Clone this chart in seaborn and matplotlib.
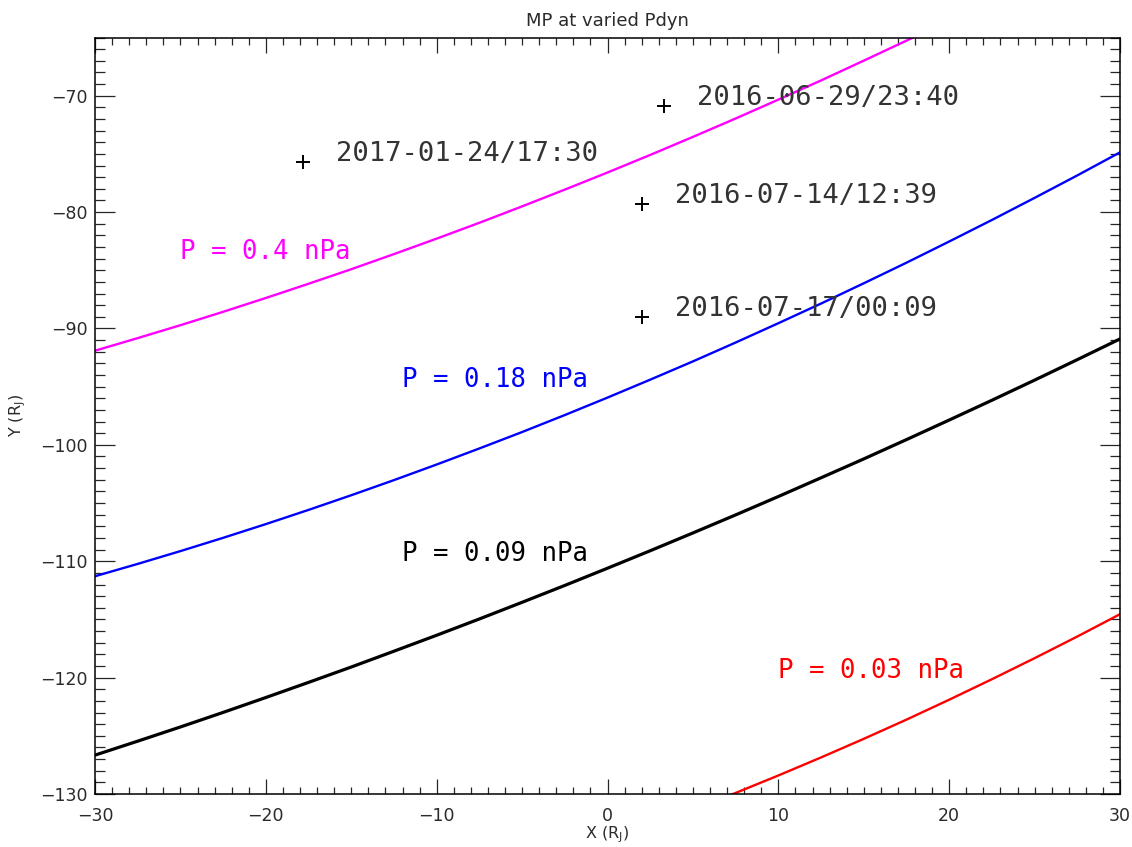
import matplotlib
matplotlib.use("Agg")
import matplotlib.pyplot as plt
from matplotlib.ticker import MultipleLocator
import pandas as pd
import seaborn as sns

# Magnetopause flank positions (Y, in R_J) at sampled X (R_J) for each dynamic pressure
x_mp = [-30, -27.5, -25, -22.5, -20, -17.5, -15, -12.5, -10, -7.5, -5, -2.5, 0,
        2.5, 5, 7.5, 10, 12.5, 15, 17.5, 20, 22.5, 25, 27.5, 30]
y_p040 = [-91.91, -90.83, -89.72, -88.57, -87.38, -86.16, -84.91, -83.61, -82.28, -80.92,
          -79.51, -78.07, -76.60, -75.09, -73.54, -71.96, -70.34, -68.69, -66.99, -65.27,
          -63.50, -61.70, -59.87, -58.00, -56.09]
y_p018 = [-111.29, -110.23, -109.13, -107.99, -106.81, -105.59, -104.33, -103.03, -101.69, -100.31,
          -98.90, -97.44, -95.94, -94.40, -92.83, -91.21, -89.55, -87.86, -86.12, -84.35,
          -82.53, -80.68, -78.78, -76.85, -74.87]
y_p009 = [-126.66, -125.46, -124.24, -122.99, -121.71, -120.41, -119.09, -117.73, -116.36, -114.96,
          -113.53, -112.08, -110.60, -109.10, -107.57, -106.02, -104.44, -102.83, -101.21, -99.55,
          -97.87, -96.17, -94.44, -92.68, -90.90]
x_p003 = [5, 7.5, 10, 12.5, 15, 17.5, 20, 22.5, 25, 27.5, 30]
y_p003 = [-131.35, -129.91, -128.41, -126.86, -125.26, -123.61, -121.90, -120.14, -118.33, -116.47, -114.55]

pressure_labels = ["P = 0.4 nPa", "P = 0.18 nPa", "P = 0.09 nPa", "P = 0.03 nPa"]
label_x = [-25, -12, -12, 10]
label_y = [-84, -95, -110, -120]
curve_colors = ["#ff00ff", "#0000ff", "#000000", "#ff0000"]

# Spacecraft crossing events
event_names = ["2017-01-24/17:30", "2016-06-29/23:40", "2016-07-14/12:39", "2016-07-17/00:09"]
event_x = [-17.8, 3.3, 2.0, 2.0]
event_y = [-75.7, -70.9, -79.3, -89.0]

sns.set_theme(style="white")
plt.rcParams["font.family"] = ["DejaVu Sans"]
plt.rcParams["mathtext.fontset"] = "dejavusans"
plt.rcParams["lines.solid_joinstyle"] = "round"

TXT = "#2a2a2a"
LABEL_FONT = ["DejaVu Sans Mono", "DejaVu Sans"]

fig = plt.figure(figsize=(11.32, 8.47), dpi=100)
ax = fig.add_axes([95 / 1132, 53 / 847, 1025 / 1132, 756.5 / 847])

curves = [
    (x_mp, y_p040, curve_colors[0], 1.7),
    (x_mp, y_p018, curve_colors[1], 1.7),
    (x_mp, y_p009, curve_colors[2], 2.3),
    (x_p003, y_p003, curve_colors[3], 1.7),
]
for xs, ys, col, lw in curves:
    sns.lineplot(x=xs, y=ys, color=col, linewidth=lw, ax=ax, sort=False,
                 estimator=None, legend=False)

for txt, lx, ly, col in zip(pressure_labels, label_x, label_y, curve_colors):
    ax.text(lx, ly, txt, color=col, fontsize=18.5, family=LABEL_FONT,
            ha="left", va="baseline")

events = pd.DataFrame({"x": event_x, "y": event_y, "name": event_names})
sns.scatterplot(data=events, x="x", y="y", marker="+", s=90, color="black",
                linewidth=1.4, ax=ax, legend=False)
for name, ex, ey in zip(event_names, event_x, event_y):
    ax.annotate(name, (ex, ey), xytext=(33, 8), textcoords="offset pixels",
                fontsize=19.5, family=LABEL_FONT, color="#333333",
                ha="left", va="center")

ax.set_xlim(-30, 30)
ax.set_ylim(-130, -65)
ax.xaxis.set_major_locator(MultipleLocator(10))
ax.xaxis.set_minor_locator(MultipleLocator(1))
ax.yaxis.set_major_locator(MultipleLocator(10))
ax.yaxis.set_minor_locator(MultipleLocator(1))
ax.tick_params(axis="x", which="major", direction="in", length=11, width=0.9,
               top=True, bottom=True, labelsize=12.5, labelcolor=TXT, pad=9)
ax.tick_params(axis="x", which="minor", direction="in", length=5, width=0.9,
               top=True, bottom=True)
ax.tick_params(axis="y", which="major", direction="in", length=14.5, width=0.9,
               left=True, right=True, labelsize=12.5, labelcolor=TXT, pad=5)
ax.tick_params(axis="y", which="minor", direction="in", length=7, width=0.9,
               left=True, right=True)
for sp in ax.spines.values():
    sp.set_color("black")
    sp.set_linewidth(1.1)

ax.set_xlabel(r"X (R$_\mathrm{J}$)", fontsize=11.5, color=TXT, labelpad=0)
ax.set_ylabel(r"Y (R$_\mathrm{J}$)", fontsize=11.5, color=TXT, labelpad=9)
ax.set_title("MP at varied Pdyn", fontsize=13, color=TXT, pad=8)

fig.savefig("out.png", dpi=100, facecolor="white")
